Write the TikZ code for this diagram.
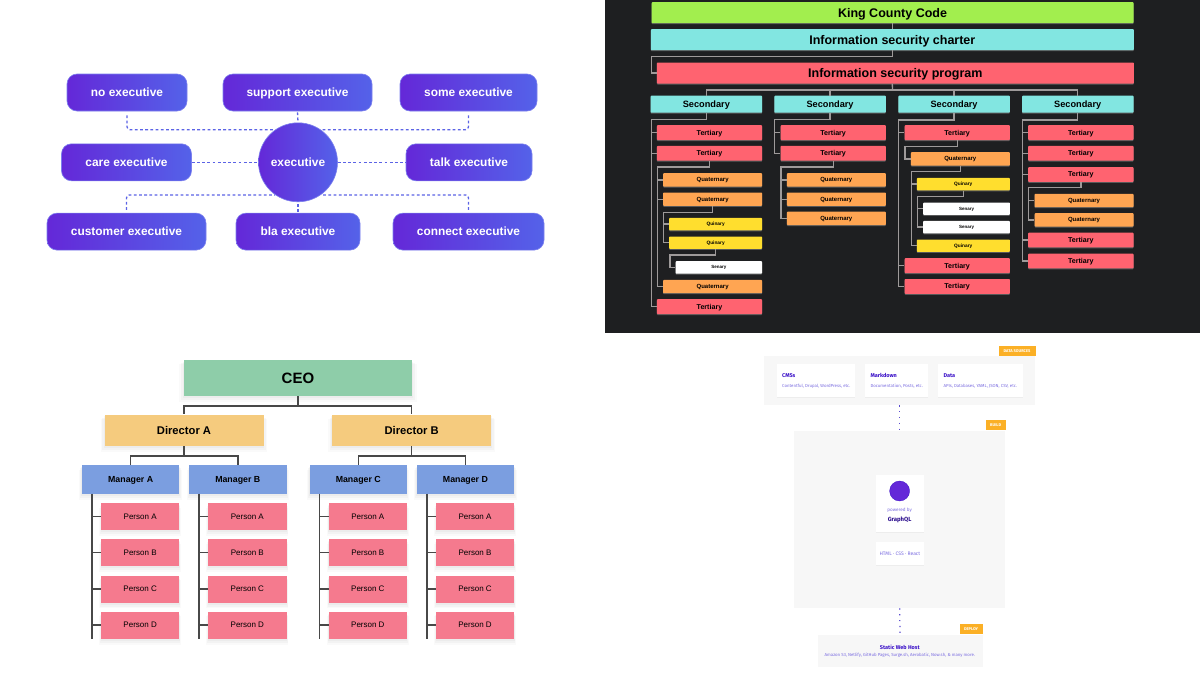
\documentclass[tikz,border=0pt]{standalone}
\usepackage{fontspec}
\setmainfont{Liberation Sans}
\newfontfamily\webfont{Fira Sans}
\usetikzlibrary{shadows}
\definecolor{exleft}{HTML}{6428D8}
\definecolor{exright}{HTML}{5462E9}
\definecolor{exedge}{HTML}{7C80EE}
\definecolor{exdash}{HTML}{5B63E6}
\definecolor{darkbg}{HTML}{1E1F21}
\definecolor{kinggreen}{HTML}{A2EE4E}
\definecolor{seccyan}{HTML}{82E6E1}
\definecolor{terred}{HTML}{FF6370}
\definecolor{quatorange}{HTML}{FFA552}
\definecolor{quinyellow}{HTML}{FFDE2E}
\definecolor{treegray}{HTML}{9E9A9A}
\definecolor{ceogreen}{HTML}{8ECDA9}
\definecolor{dirgold}{HTML}{F5CB7E}
\definecolor{mgrblue}{HTML}{7B9EE0}
\definecolor{perpink}{HTML}{F57A8E}
\definecolor{orgline}{HTML}{484848}
\definecolor{webgray}{HTML}{F7F7F7}
\definecolor{webtag}{HTML}{FBB026}
\definecolor{webtitle}{HTML}{3A10C8}
\definecolor{webtext}{HTML}{7A6CE0}
\definecolor{webdot}{HTML}{5A4BD0}
\begin{document}
\begin{tikzpicture}[x=1pt,y=-1pt]
    \tikzstyle{exbox}=[draw=exedge,line width=.6pt,rounded corners=10pt,left color=exleft,right color=exright,
        text=white,inner sep=0pt,text depth=0pt,minimum height=37pt,font=\fontsize{11.9}{14}\selectfont\bfseries]
    \tikzstyle{exhub}=[circle,draw=exedge,line width=.6pt,left color=exleft,right color=exright,
        text=white,inner sep=0pt,text depth=0pt,minimum size=79pt,font=\fontsize{11.9}{14}\selectfont\bfseries]
    \tikzstyle{exlink}=[exdash,line width=1.3pt,dash pattern=on 2.8pt off 2.4pt,rounded corners=3pt]
    \tikzstyle{treebox}=[rounded corners=.8pt,inner sep=0pt,text depth=0pt,anchor=north east,drop shadow={opacity=.6,shadow xshift=0pt,shadow yshift=-1pt}]
    \tikzstyle{topbox}=[treebox,minimum height=21pt,font=\fontsize{12.5}{14}\selectfont\bfseries]
    \tikzstyle{secbox}=[treebox,fill=seccyan,minimum width=111.5pt,minimum height=17pt,font=\fontsize{9.2}{11}\selectfont\bfseries]
    \tikzstyle{terbox}=[treebox,fill=terred,minimum width=105.3pt,minimum height=14.8pt,font=\fontsize{7.1}{9}\selectfont\bfseries]
    \tikzstyle{quatbox}=[treebox,fill=quatorange,minimum width=99pt,minimum height=13.3pt,font=\fontsize{6}{7}\selectfont\bfseries]
    \tikzstyle{quinbox}=[treebox,fill=quinyellow,minimum width=93pt,minimum height=12.4pt,font=\fontsize{4.8}{6}\selectfont\bfseries]
    \tikzstyle{senbox}=[treebox,fill=white,minimum width=86.6pt,minimum height=12.4pt,font=\fontsize{4.5}{5}\selectfont\bfseries]
    \tikzstyle{treelink}=[treegray,line width=1.3pt]
    \tikzstyle{softshadow}=[drop shadow={opacity=.035,shadow xshift=0pt,shadow yshift=-5pt,shadow scale=1.05},
        drop shadow={opacity=.05,shadow xshift=0pt,shadow yshift=-3.5pt,shadow scale=1.03},
        drop shadow={opacity=.06,shadow xshift=0pt,shadow yshift=-2pt,shadow scale=1.01}]
    \tikzstyle{orgbox}=[inner sep=0pt,text depth=0pt,anchor=north west,softshadow]
    \tikzstyle{dirbox}=[orgbox,fill=dirgold,minimum width=159pt,minimum height=31.7pt,font=\fontsize{11.2}{14}\selectfont\bfseries]
    \tikzstyle{mgrbox}=[orgbox,fill=mgrblue,minimum width=97.5pt,minimum height=28.7pt,font=\fontsize{8.8}{12}\selectfont\bfseries]
    \tikzstyle{perbox}=[orgbox,fill=perpink,minimum width=78.3pt,minimum height=27pt,font=\fontsize{8}{10}\selectfont]
    \tikzstyle{orglink}=[orgline,line width=1.5pt]
    \tikzstyle{webpanel}=[fill=webgray,inner sep=0pt,anchor=north west]
    \tikzstyle{webcard}=[fill=white,inner sep=0pt,anchor=north west,drop shadow={opacity=.08,shadow xshift=0pt,shadow yshift=-1pt}]
    \tikzstyle{webtagbox}=[fill=webtag,text=white,inner sep=0pt,anchor=south east,minimum height=10.2pt,font=\webfont\fontsize{4}{5}\selectfont\bfseries]
    \tikzstyle{webhead}=[text=webtitle,inner sep=0pt,font=\webfont\fontsize{5.5}{6}\selectfont\bfseries]
    \tikzstyle{webbody}=[text=webtext,inner sep=0pt,font=\webfont\fontsize{4.35}{5}\selectfont]
    \tikzstyle{webdots}=[webdot,line width=1.2pt,dash pattern=on 1.2pt off 4.6pt]

    \useasboundingbox (0,0) rectangle (1200,675);
    \fill[white] (0,0) rectangle (1200,675);

    \begin{scope}
        \node [exhub] (exec) at (298,162.3) {executive};
        \node [exbox,minimum width=120pt] (noexec) at (127,92.5) {no executive};
        \node [exbox,minimum width=149pt] (supportexec) at (297.5,92.5) {support executive};
        \node [exbox,minimum width=137pt] (someexec) at (468.5,92.5) {some executive};
        \node [exbox,minimum width=130pt] (careexec) at (126.5,162.3) {care executive};
        \node [exbox,minimum width=126pt] (talkexec) at (469,162.3) {talk executive};
        \node [exbox,minimum width=159pt] (customerexec) at (126.5,231.6) {customer executive};
        \node [exbox,minimum width=124pt] (blaexec) at (298,231.6) {bla executive};
        \node [exbox,minimum width=151pt] (connectexec) at (468.5,231.6) {connect executive};
        \draw [exlink,shorten <=4pt] (noexec.south) |- (exec.125);
        \draw [exlink,shorten <=4pt] (someexec.south) |- (exec.55);
        \draw [exlink,shorten <=1pt] (supportexec.south) -- (exec.north);
        \draw [exlink] (careexec.east) -- (exec.west);
        \draw [exlink] (exec.east) -- (talkexec.west);
        \draw [exlink,shorten <=3pt] (customerexec.north) |- (exec.235);
        \draw [exlink,shorten <=3pt] (connectexec.north) |- (exec.305);
        \draw [exlink,shorten <=1pt] (blaexec.north) -- (exec.south);
    \end{scope}

    \fill[darkbg] (605,0) rectangle (1200,333);

    \begin{scope}
        \node [topbox,fill=kinggreen,minimum width=482pt] (king) at (1133.7,2) {King County Code};
        \node [topbox,fill=seccyan,minimum width=483pt] (charter) at (1134,29) {Information security charter};
        \node [topbox,fill=terred,minimum width=477pt] (program) at (1134,62.3) {Information security program};
        \node [secbox] (secA) at (762.3,95.5) {Secondary};
        \node [secbox] (secB) at (886,95.5) {Secondary};
        \node [secbox] (secC) at (1010,95.5) {Secondary};
        \node [secbox] (secD) at (1133.7,95.5) {Secondary};

        \node [terbox] (terA1) at (762.3,125) {Tertiary};
        \node [terbox] (terA2) at (762.3,145.7) {Tertiary};
        \node [quatbox] (quatA1) at (762.3,173) {Quaternary};
        \node [quatbox] (quatA2) at (762.3,192.3) {Quaternary};
        \node [quinbox] (quinA1) at (762.3,217.7) {Quinary};
        \node [quinbox] (quinA2) at (762.3,236.3) {Quinary};
        \node [senbox] (senA1) at (762.3,261) {Senary};
        \node [quatbox] (quatA3) at (762.3,279.7) {Quaternary};
        \node [terbox] (terA3) at (762.3,299) {Tertiary};

        \node [terbox] (terB1) at (886,125) {Tertiary};
        \node [terbox] (terB2) at (886,145.7) {Tertiary};
        \node [quatbox] (quatB1) at (886,173) {Quaternary};
        \node [quatbox] (quatB2) at (886,192.3) {Quaternary};
        \node [quatbox] (quatB3) at (886,211.5) {Quaternary};

        \node [terbox] (terC1) at (1010,125) {Tertiary};
        \node [quatbox] (quatC1) at (1010,152) {Quaternary};
        \node [quinbox] (quinC1) at (1010,177.7) {Quinary};
        \node [senbox] (senC1) at (1010,202.3) {Senary};
        \node [senbox] (senC2) at (1010,220.7) {Senary};
        \node [quinbox] (quinC2) at (1010,239.3) {Quinary};
        \node [terbox] (terC2) at (1010,258) {Tertiary};
        \node [terbox] (terC3) at (1010,278.8) {Tertiary};

        \node [terbox] (terD1) at (1133.7,125) {Tertiary};
        \node [terbox] (terD2) at (1133.7,145.7) {Tertiary};
        \node [terbox] (terD3) at (1133.7,166.8) {Tertiary};
        \node [quatbox] (quatD1) at (1133.7,193.7) {Quaternary};
        \node [quatbox] (quatD2) at (1133.7,213) {Quaternary};
        \node [terbox] (terD4) at (1133.7,232.4) {Tertiary};
        \node [terbox] (terD5) at (1133.7,253.3) {Tertiary};

        \coordinate (elbowcharter) at (651.3,56.7);
        \coordinate (busprogram) at (892.5,90);
        \draw [treelink] (king.south -| charter.south) -- (charter.north);
        \draw [treelink] (charter.south) |- (elbowcharter) |- (program.west);
        \draw [treelink] (charter.south |- program.south) -- (busprogram);
        \draw [treelink] (busprogram) -| (secA.north);
        \draw [treelink] (busprogram) -| (secB.north);
        \draw [treelink] (busprogram) -| (secC.north);
        \draw [treelink] (busprogram) -| (secD.north);

        \coordinate (trunkA) at (651.3,119.3);
        \coordinate (trunkAter) at (657.7,167);
        \coordinate (trunkAquat) at (663.7,212.3);
        \coordinate (trunkAquin) at (670,255);
        \draw [treelink] (secA.south) |- (trunkA) |- (terA3.west);
        \draw [treelink] (trunkA) |- (terA1.west);
        \draw [treelink] (trunkA) |- (terA2.west);
        \draw [treelink] (terA2.south) |- (trunkAter) |- (quatA3.west);
        \draw [treelink] (trunkAter) |- (quatA1.west);
        \draw [treelink] (trunkAter) |- (quatA2.west);
        \draw [treelink] (quatA2.south) |- (trunkAquat) |- (quinA2.west);
        \draw [treelink] (trunkAquat) |- (quinA1.west);
        \draw [treelink] (quinA2.south) |- (trunkAquin) |- (senA1.west);

        \coordinate (trunkB) at (774.7,119.3);
        \coordinate (trunkBter) at (781,167);
        \draw [treelink] (secB.south) |- (trunkB) |- (terB2.west);
        \draw [treelink] (trunkB) |- (terB1.west);
        \draw [treelink] (terB2.south) |- (trunkBter) |- (quatB3.west);
        \draw [treelink] (trunkBter) |- (quatB1.west);
        \draw [treelink] (trunkBter) |- (quatB2.west);

        \coordinate (trunkC) at (898.7,120);
        \coordinate (trunkCter) at (905,146.7);
        \coordinate (trunkCquat) at (911.3,171.7);
        \coordinate (trunkCquin) at (917.7,196.7);
        \draw [treelink] (secC.south) |- (trunkC) |- (terC3.west);
        \draw [treelink] (trunkC) |- (terC1.west);
        \draw [treelink] (trunkC) |- (terC2.west);
        \draw [treelink] (terC1.south) |- (trunkCter) |- (quatC1.west);
        \draw [treelink] (quatC1.south) |- (trunkCquat) |- (quinC2.west);
        \draw [treelink] (trunkCquat) |- (quinC1.west);
        \draw [treelink] (quinC1.south) |- (trunkCquin) |- (senC2.west);
        \draw [treelink] (trunkCquin) |- (senC1.west);

        \coordinate (trunkD) at (1022.7,120);
        \coordinate (trunkDter) at (1028.7,187.7);
        \draw [treelink] (secD.south) |- (trunkD) |- (terD5.west);
        \draw [treelink] (trunkD) |- (terD1.west);
        \draw [treelink] (trunkD) |- (terD2.west);
        \draw [treelink] (trunkD) |- (terD3.west);
        \draw [treelink] (trunkD) |- (terD4.west);
        \draw [treelink] (terD3.south) |- (trunkDter) |- (quatD2.west);
        \draw [treelink] (trunkDter) |- (quatD1.west);
    \end{scope}

    \begin{scope}
        \node [orgbox,fill=ceogreen,minimum width=227.5pt,minimum height=36.3pt,font=\fontsize{15}{18}\selectfont\bfseries] (ceo) at (184,359.7) {CEO};
        \node [dirbox] (dirA) at (104.3,414.3) {Director A};
        \node [dirbox] (dirB) at (332,414.3) {Director B};
        \node [mgrbox] (mgrA) at (81.7,465) {Manager A};
        \node [mgrbox] (mgrB) at (188.8,465) {Manager B};
        \node [mgrbox] (mgrC) at (309.3,465) {Manager C};
        \node [mgrbox] (mgrD) at (416.5,465) {Manager D};

        \node [perbox] (perA1) at (100.8,503) {Person A};
        \node [perbox] (perA2) at (100.8,539) {Person B};
        \node [perbox] (perA3) at (100.8,575.3) {Person C};
        \node [perbox] (perA4) at (100.8,611.5) {Person D};
        \node [perbox] (perB1) at (208,503) {Person A};
        \node [perbox] (perB2) at (208,539) {Person B};
        \node [perbox] (perB3) at (208,575.3) {Person C};
        \node [perbox] (perB4) at (208,611.5) {Person D};
        \node [perbox] (perC1) at (328.5,503) {Person A};
        \node [perbox] (perC2) at (328.5,539) {Person B};
        \node [perbox] (perC3) at (328.5,575.3) {Person C};
        \node [perbox] (perC4) at (328.5,611.5) {Person D};
        \node [perbox] (perD1) at (435.7,503) {Person A};
        \node [perbox] (perD2) at (435.7,539) {Person B};
        \node [perbox] (perD3) at (435.7,575.3) {Person C};
        \node [perbox] (perD4) at (435.7,611.5) {Person D};

        \draw [orglink] (ceo.south) -- ++(0,9.7) -| (dirA.north);
        \draw [orglink] (ceo.south) -- ++(0,9.7) -| (dirB.north);
        \draw [orglink] (dirA.south) -- ++(0,9.7) -| (mgrA.north);
        \draw [orglink] (dirA.south) -- ++(0,9.7) -| (mgrB.north);
        \draw [orglink] (dirB.south) -- ++(0,9.7) -| (mgrC.north);
        \draw [orglink] (dirB.south) -- ++(0,9.7) -| (mgrD.north);

        \coordinate (trunkmgrA) at (92,493.7);
        \coordinate (trunkmgrB) at (199,493.7);
        \coordinate (trunkmgrC) at (319.7,493.7);
        \coordinate (trunkmgrD) at (426.9,493.7);
        \draw [orglink] (trunkmgrA) -- (trunkmgrA |- perA4.south);
        \draw [orglink] (trunkmgrA |- perA1.west) -- (perA1.west);
        \draw [orglink] (trunkmgrA |- perA2.west) -- (perA2.west);
        \draw [orglink] (trunkmgrA |- perA3.west) -- (perA3.west);
        \draw [orglink] (trunkmgrA |- perA4.west) -- (perA4.west);
        \draw [orglink] (trunkmgrB) -- (trunkmgrB |- perB4.south);
        \draw [orglink] (trunkmgrB |- perB1.west) -- (perB1.west);
        \draw [orglink] (trunkmgrB |- perB2.west) -- (perB2.west);
        \draw [orglink] (trunkmgrB |- perB3.west) -- (perB3.west);
        \draw [orglink] (trunkmgrB |- perB4.west) -- (perB4.west);
        \draw [orglink] (trunkmgrC) -- (trunkmgrC |- perC4.south);
        \draw [orglink] (trunkmgrC |- perC1.west) -- (perC1.west);
        \draw [orglink] (trunkmgrC |- perC2.west) -- (perC2.west);
        \draw [orglink] (trunkmgrC |- perC3.west) -- (perC3.west);
        \draw [orglink] (trunkmgrC |- perC4.west) -- (perC4.west);
        \draw [orglink] (trunkmgrD) -- (trunkmgrD |- perD4.south);
        \draw [orglink] (trunkmgrD |- perD1.west) -- (perD1.west);
        \draw [orglink] (trunkmgrD |- perD2.west) -- (perD2.west);
        \draw [orglink] (trunkmgrD |- perD3.west) -- (perD3.west);
        \draw [orglink] (trunkmgrD |- perD4.west) -- (perD4.west);
    \end{scope}

    \begin{scope}
        \node [webpanel,minimum width=271pt,minimum height=49pt] (datapanel) at (764,356) {};
        \node [webpanel,minimum width=211pt,minimum height=177pt] (buildpanel) at (794,431) {};
        \node [webpanel,minimum width=165pt,minimum height=31.7pt] (deploypanel) at (817.3,635) {};
        \node [webtagbox,minimum width=37pt] (datatag) at (1035.7,356) {DATA SOURCES};
        \node [webtagbox,minimum width=19.7pt] (buildtag) at (1005.7,430.2) {BUILD};
        \node [webtagbox,minimum width=23pt] (deploytag) at (982.7,634.5) {DEPLOY};

        \node [webcard,minimum width=78.3pt,minimum height=32.7pt] (cmscard) at (776.7,364) {};
        \node [webcard,minimum width=63pt,minimum height=32.7pt] (mdcard) at (865,364) {};
        \node [webcard,minimum width=84.7pt,minimum height=32.7pt] (datacard) at (938,364) {};
        \node [webhead,anchor=west] (cmshead) at (782,375.3) {CMSs};
        \node [webbody,anchor=west] (cmsbody) at (782,386) {Contentful, Drupal, WordPress, etc.};
        \node [webhead,anchor=west] (mdhead) at (870.3,375.3) {Markdown};
        \node [webbody,anchor=west] (mdbody) at (870.3,386) {Documentation, Posts, etc.};
        \node [webhead,anchor=west] (datahead) at (943.3,375.3) {Data};
        \node [webbody,anchor=west] (databody) at (943.3,386) {APIs, Databases, YAML, JSON, CSV, etc.};

        \node [webcard,minimum width=48.7pt,minimum height=57.4pt] (gatsbycard) at (875.3,474.3) {};
        \node [circle,fill=exleft,draw=webtitle,line width=.3pt,inner sep=0pt,minimum size=20pt] (gatsbylogo) at (899.6,491) {};
        \node [webbody,font=\webfont\fontsize{4.6}{5}\selectfont] (poweredby) at (899.6,510) {powered by};
        \node [webhead,text=webtitle!70!black,font=\webfont\fontsize{6}{7}\selectfont\bfseries] (graphql) at (899.6,520) {GraphQL};
        \node [webcard,minimum width=48.7pt,minimum height=22.7pt] (htmlcard) at (875.3,542) {};
        \node [webbody,font=\webfont\fontsize{5}{6}\selectfont] (htmltext) at (htmlcard.center) {HTML · CSS · React};

        \node [webhead] (hosthead) at (899.8,647) {Static Web Host};
        \node [webbody] (hostbody) at (899.8,655.7) {Amazon S3, Netlify, GitHub Pages, Surge.sh, Aerobatic, Now.sh, \& many more.};

        \draw [webdots] (datapanel.south) -- (buildpanel.north);
        \draw [webdots] (buildpanel.south) -- (deploypanel.north);
    \end{scope}
\end{tikzpicture}
\end{document}
